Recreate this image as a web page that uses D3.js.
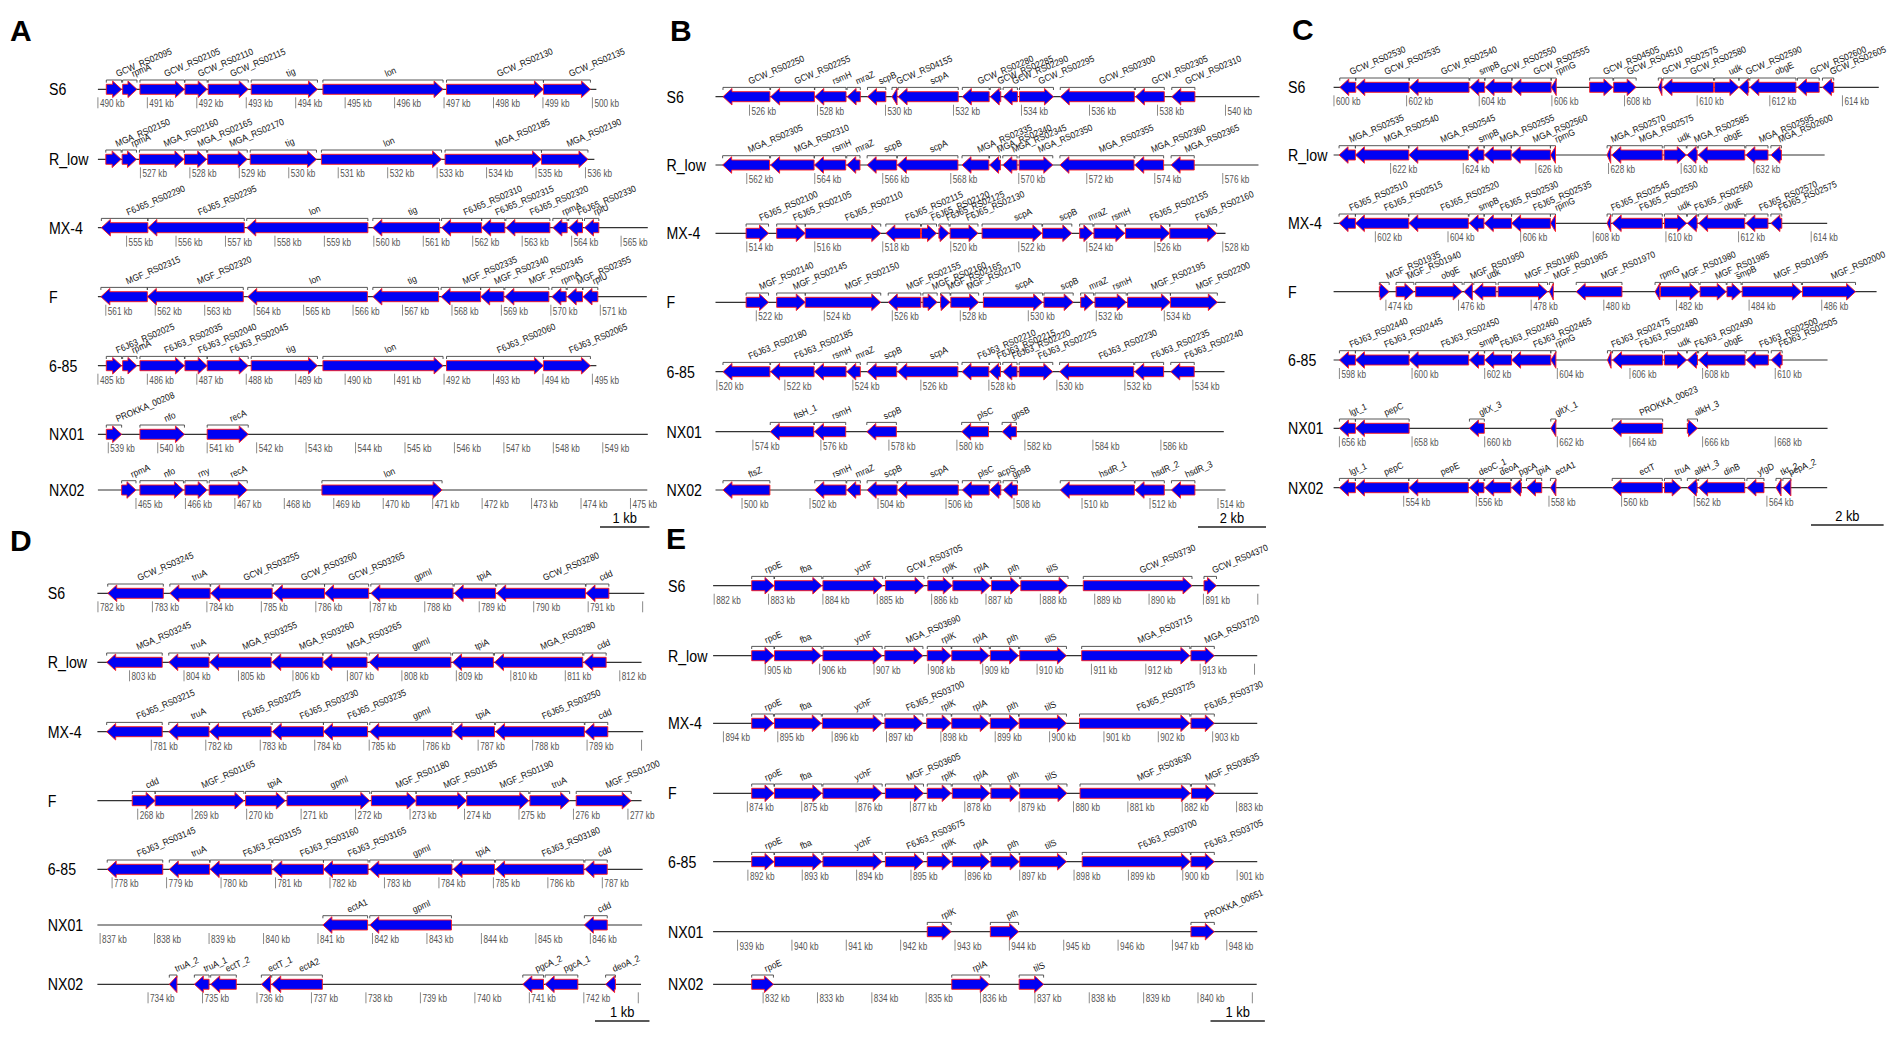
<!DOCTYPE html>
<html>
<head>
<meta charset="utf-8">
<script src="https://cdn.jsdelivr.net/npm/d3@7/dist/d3.min.js"></script>
<style>
  body { margin: 0; background: #fff; }
  svg { display: block; }
  text { font-family: "Liberation Sans", Arial, sans-serif; }
</style>
</head>
<body>
<div id="chart"></div>
<script>
// strains, one row each, same order in every panel
const strains = ['S6', 'R_low', 'MX-4', 'F', '6-85', 'NX01', 'NX02'];

// genes: [start kb, end kb, strand, name]
// panel A
const A_S6 = [[490.17,490.48,1,'GCW_RS02095'],[490.50,490.79,1,'rpmA'],[490.85,491.75,1,'GCW_RS02105'],[491.76,492.21,1,'GCW_RS02110'],[492.23,493.04,1,'GCW_RS02115'],[493.10,494.44,1,'tig'],[494.55,496.98,1,'lon'],[497.05,499.01,1,'GCW_RS02130'],[499.01,499.96,1,'GCW_RS02135']];
const A_Rlow = [[526.30,526.61,1,'MGA_RS02150'],[526.63,526.92,1,'rpmA'],[526.98,527.88,1,'MGA_RS02160'],[527.89,528.34,1,'MGA_RS02165'],[528.36,529.16,1,'MGA_RS02170'],[529.22,530.56,1,'tig'],[530.66,533.09,1,'lon'],[533.16,535.11,1,'MGA_RS02185'],[535.11,536.05,1,'MGA_RS02190']];
const A_MX4 = [[554.49,555.43,-1,'F6J65_RS02290'],[555.43,557.38,-1,'F6J65_RS02295'],[557.43,559.88,-1,'lon'],[559.98,561.33,-1,'tig'],[561.37,562.18,-1,'F6J65_RS02310'],[562.18,562.65,-1,'F6J65_RS02315'],[562.67,563.56,-1,'F6J65_RS02320'],[563.62,563.91,-1,'rpmA'],[563.94,564.22,-1,'F6J65_RS02330'],[564.26,564.55,-1,'rplU']];
const A_F = [[560.90,561.84,-1,'MGF_RS02315'],[561.84,563.78,-1,'MGF_RS02320'],[563.87,566.29,-1,'lon'],[566.40,567.73,-1,'tig'],[567.78,568.58,-1,'MGF_RS02335'],[568.58,569.05,-1,'MGF_RS02340'],[569.07,569.96,-1,'MGF_RS02345'],[570.02,570.31,-1,'rpmA'],[570.33,570.64,-1,'MGF_RS02355'],[570.65,570.95,-1,'rplU']];
const A_685 = [[485.17,485.48,1,'F6J63_RS02025'],[485.50,485.79,1,'rpmA'],[485.85,486.75,1,'F6J63_RS02035'],[486.76,487.21,1,'F6J63_RS02040'],[487.21,488.04,1,'F6J63_RS02045'],[488.10,489.44,1,'tig'],[489.55,491.98,1,'lon'],[492.05,494.01,1,'F6J63_RS02060'],[494.01,494.96,1,'F6J63_RS02065']];
const A_NX01 = [[538.96,539.27,1,'PROKKA_00208'],[539.64,540.54,1,'nfo'],[541.00,541.83,1,'recA']];
const A_NX02 = [[464.71,465.00,1,'rpmA'],[465.08,465.96,1,'nfo'],[465.99,466.44,1,'rny'],[466.48,467.25,1,'recA'],[468.76,471.19,1,'lon']];
const A_extent = [[490,500.08],[526.14,536.18],[554.42,565.54],[560.84,571.94],[485,495.08],[538.79,549.91],[464.23,475.34]];

// panel B
const B_S6 = [[525.22,526.60,-1,'GCW_RS02250'],[526.62,527.91,-1,'GCW_RS02255'],[527.92,528.84,-1,'rsmH'],[528.87,529.26,-1,'mraZ'],[529.47,530.01,-1,'scpB'],[530.19,530.34,-1,'GCW_RS04155'],[530.37,532.14,-1,'scpA'],[532.26,533.05,-1,'GCW_RS02280'],[533.08,533.39,-1,'GCW_RS02285'],[533.46,533.88,-1,'GCW_RS02290'],[533.94,534.94,1,'GCW_RS02295'],[535.14,537.32,-1,'GCW_RS02300'],[537.35,538.20,-1,'GCW_RS02305'],[538.42,539.10,-1,'GCW_RS02310']];
const B_Rlow = [[561.29,562.67,-1,'MGA_RS02305'],[562.70,563.98,-1,'MGA_RS02310'],[563.99,564.91,-1,'rsmH'],[564.94,565.33,-1,'mraZ'],[565.54,566.41,-1,'scpB'],[566.43,568.21,-1,'scpA'],[568.33,569.12,-1,'MGA_RS02335'],[569.14,569.46,-1,'MGA_RS02340'],[569.53,569.95,-1,'MGA_RS02345'],[570.01,571.00,1,'MGA_RS02350'],[571.21,573.39,-1,'MGA_RS02355'],[573.41,574.26,-1,'MGA_RS02360'],[574.48,575.16,-1,'MGA_RS02365']];
const B_MX4 = [[513.98,514.64,1,'F6J65_RS02100'],[514.88,515.72,1,'F6J65_RS02105'],[515.72,517.94,1,'F6J65_RS02110'],[518.09,519.11,-1,'F6J65_RS02115'],[519.14,519.58,1,'F6J65_RS02120'],[519.65,519.95,1,'F6J65_RS02125'],[519.98,520.80,1,'F6J65_RS02130'],[520.92,522.68,1,'scpA'],[522.70,523.56,1,'scpB'],[523.79,524.18,1,'mraZ'],[524.21,525.12,1,'rsmH'],[525.14,526.44,1,'F6J65_RS02155'],[526.44,527.82,1,'F6J65_RS02160']];
const B_F = [[521.70,522.36,1,'MGF_RS02140'],[522.60,523.44,1,'MGF_RS02145'],[523.44,525.66,1,'MGF_RS02150'],[525.88,526.84,-1,'MGF_RS02155'],[526.90,527.32,1,'MGF_RS02160'],[527.42,527.70,1,'MGF_RS02165'],[527.72,528.54,1,'MGF_RS02170'],[528.68,530.42,1,'scpA'],[530.46,531.32,1,'scpB'],[531.54,531.92,1,'mraZ'],[531.96,532.88,1,'rsmH'],[532.92,534.18,1,'MGF_RS02195'],[534.18,535.56,1,'MGF_RS02200']];
const B_685 = [[520.18,521.56,-1,'F6J63_RS02180'],[521.58,522.86,-1,'F6J63_RS02185'],[522.87,523.80,-1,'rsmH'],[523.82,524.22,-1,'mraZ'],[524.42,525.29,-1,'scpB'],[525.32,527.09,-1,'scpA'],[527.21,528.00,-1,'F6J63_RS02210'],[528.02,528.34,-1,'F6J63_RS02215'],[528.41,528.83,-1,'F6J63_RS02220'],[528.89,529.88,1,'F6J63_RS02225'],[530.08,532.26,-1,'F6J63_RS02230'],[532.29,533.14,-1,'F6J63_RS02235'],[533.35,534.04,-1,'F6J63_RS02240']];
const B_NX01 = [[574.51,575.79,-1,'ftsH_1'],[575.81,576.73,-1,'rsmH'],[577.35,578.22,-1,'scpB'],[580.14,580.93,-1,'plsC'],[581.33,581.75,-1,'gpsB']];
const B_NX02 = [[499.44,500.82,-1,'ftsZ'],[502.14,503.06,-1,'rsmH'],[503.08,503.48,-1,'mraZ'],[503.68,504.56,-1,'scpB'],[504.58,506.36,-1,'scpA'],[506.48,507.27,-1,'plsC'],[507.29,507.61,-1,'acpS'],[507.68,508.10,-1,'gpsB'],[509.36,511.54,-1,'hsdR_1'],[511.56,512.42,-1,'hsdR_2'],[512.63,513.32,-1,'hsdR_3']];
const B_extent = [[525.0,541.0],[561.08,577.05],[513.08,528.08],[520.80,535.80],[519.96,534.93],[572.90,587.85],[499.22,514.22]];

// panel C
const C_S6 = [[600.16,600.60,-1,'GCW_RS02530'],[600.60,602.07,-1,'GCW_RS02535'],[602.07,603.72,-1,'GCW_RS02540'],[603.74,604.15,-1,'smpB'],[604.16,604.90,-1,'GCW_RS02550'],[604.90,605.98,-1,'GCW_RS02555'],[605.98,606.12,-1,'rpmG'],[607.04,607.68,1,'GCW_RS04505'],[607.70,608.32,1,'GCW_RS04510'],[608.93,609.03,-1,'GCW_RS02575'],[609.06,610.45,-1,'GCW_RS02580'],[610.48,611.15,1,'udk'],[611.15,611.42,-1,'GCW_RS02590'],[611.45,612.72,-1,'obgE'],[612.76,613.36,-1,'GCW_RS02600'],[613.45,613.76,-1,'GCW_RS02605']];
const C_Rlow = [[620.58,621.03,-1,'MGA_RS02535'],[621.03,622.50,-1,'MGA_RS02540'],[622.50,624.14,-1,'MGA_RS02545'],[624.16,624.57,-1,'smpB'],[624.58,625.32,-1,'MGA_RS02555'],[625.32,626.40,-1,'MGA_RS02560'],[626.40,626.54,-1,'rpmG'],[627.96,628.06,-1,'MGA_RS02570'],[628.09,629.48,-1,'MGA_RS02575'],[629.53,630.14,1,'udk'],[630.16,630.44,-1,'MGA_RS02585'],[630.47,631.75,-1,'obgE'],[631.78,632.39,-1,'MGA_RS02595'],[632.47,632.76,-1,'MGA_RS02600']];
const C_MX4 = [[601.00,601.45,-1,'F6J65_RS02510'],[601.45,602.92,-1,'F6J65_RS02515'],[602.92,604.56,-1,'F6J65_RS02520'],[604.58,604.99,-1,'smpB'],[605.00,605.75,-1,'F6J65_RS02530'],[605.75,606.82,-1,'F6J65_RS02535'],[606.82,606.96,-1,'rpmG'],[608.38,608.48,-1,'F6J65_RS02545'],[608.52,609.90,-1,'F6J65_RS02550'],[609.96,610.57,1,'udk'],[610.59,610.86,-1,'F6J65_RS02560'],[610.90,612.17,-1,'obgE'],[612.20,612.81,-1,'F6J65_RS02570'],[612.89,613.19,-1,'F6J65_RS02575']];
const C_F = [[473.82,474.09,1,'MGF_RS01935'],[474.28,474.77,1,'MGF_RS01940'],[474.82,476.10,1,'obgE'],[476.15,476.38,-1,'MGF_RS01950'],[476.42,477.03,-1,'udk'],[477.09,478.45,1,'MGF_RS01960'],[478.50,478.61,-1,'MGF_RS01965'],[479.24,480.50,-1,'MGF_RS01970'],[481.41,481.54,-1,'rpmG'],[481.56,482.62,1,'MGF_RS01980'],[482.65,483.37,1,'MGF_RS01985'],[483.39,483.78,1,'smpB'],[483.81,485.44,1,'MGF_RS01995'],[485.47,486.93,1,'MGF_RS02000']];
const C_685 = [[598.00,598.44,-1,'F6J63_RS02440'],[598.44,599.92,-1,'F6J63_RS02445'],[599.92,601.56,-1,'F6J63_RS02450'],[601.58,601.99,-1,'smpB'],[602.00,602.74,-1,'F6J63_RS02460'],[602.74,603.82,-1,'F6J63_RS02465'],[603.82,603.96,-1,'rpmG'],[605.38,605.48,-1,'F6J63_RS02475'],[605.52,606.90,-1,'F6J63_RS02480'],[606.95,607.56,1,'udk'],[607.58,607.86,-1,'F6J63_RS02490'],[607.89,609.17,-1,'obgE'],[609.20,609.81,-1,'F6J63_RS02500'],[609.89,610.19,-1,'F6J63_RS02505']];
const C_NX01 = [[656.00,656.44,-1,'lgt_1'],[656.44,657.92,-1,'pepC'],[659.58,659.99,-1,'gltX_3'],[661.82,661.96,-1,'gltX_1'],[663.51,664.90,-1,'PROKKA_00623'],[665.58,665.86,1,'alkH_3']];
const C_NX02 = [[552.23,552.67,-1,'lgt_1'],[552.67,554.14,-1,'pepC'],[554.14,555.78,-1,'pepE'],[555.81,556.21,-1,'deoC_1'],[556.23,556.95,-1,'deoA'],[556.97,557.24,-1,'pgcA'],[557.38,557.80,-1,'tpiA'],[558.04,558.19,-1,'ectA1'],[559.74,561.12,-1,'ectT'],[561.18,561.64,1,'truA'],[561.81,562.08,-1,'alkH_3'],[562.12,563.39,-1,'dinB'],[563.45,563.92,-1,'yfgD'],[564.25,564.39,-1,'tkt_2'],[564.44,564.66,-1,'pepA_2']];
const C_extent = [[599.99,615.0],[620.43,633.95],[600.85,614.44],[472.56,487.51],[597.84,611.44],[655.84,669.44],[552.07,565.66]];

// panel D
const D_S6 = [[782.18,783.20,-1,'GCW_RS03245'],[783.32,784.06,-1,'truA'],[784.07,785.20,-1,'GCW_RS03255'],[785.22,786.16,-1,'GCW_RS03260'],[786.16,786.97,-1,'GCW_RS03265'],[787.01,788.52,-1,'gpmI'],[788.54,789.30,-1,'tpiA'],[789.32,790.95,-1,'GCW_RS03280'],[790.96,791.38,-1,'cdd']];
const D_Rlow = [[802.58,803.60,-1,'MGA_RS03245'],[803.72,804.46,-1,'truA'],[804.47,805.60,-1,'MGA_RS03255'],[805.61,806.55,-1,'MGA_RS03260'],[806.55,807.36,-1,'MGA_RS03265'],[807.40,808.90,-1,'gpmI'],[808.93,809.68,-1,'tpiA'],[809.70,811.32,-1,'MGA_RS03280'],[811.34,811.75,-1,'cdd']];
const D_MX4 = [[780.18,781.20,-1,'F6J65_RS03215'],[781.32,782.06,-1,'truA'],[782.07,783.20,-1,'F6J65_RS03225'],[783.22,784.16,-1,'F6J65_RS03230'],[784.16,784.97,-1,'F6J65_RS03235'],[785.01,786.52,-1,'gpmI'],[786.54,787.30,-1,'tpiA'],[787.32,788.95,-1,'F6J65_RS03250'],[788.96,789.38,-1,'cdd']];
const D_F = [[267.90,268.32,1,'cdd'],[268.32,269.95,1,'MGF_RS01165'],[269.98,270.71,1,'tpiA'],[270.74,272.26,1,'gpmI'],[272.29,273.11,1,'MGF_RS01180'],[273.11,274.04,1,'MGF_RS01185'],[274.04,275.18,1,'MGF_RS01190'],[275.20,275.93,1,'truA'],[276.05,277.06,1,'MGF_RS01200']];
const D_685 = [[777.91,778.93,-1,'F6J63_RS03145'],[779.05,779.79,-1,'truA'],[779.80,780.93,-1,'F6J63_RS03155'],[780.95,781.88,-1,'F6J63_RS03160'],[781.88,782.70,-1,'F6J63_RS03165'],[782.73,784.24,-1,'gpmI'],[784.26,785.02,-1,'tpiA'],[785.04,786.66,-1,'F6J63_RS03180'],[786.68,787.09,-1,'cdd']];
const D_NX01 = [[841.09,841.91,-1,'ectA1'],[841.95,843.45,-1,'gpmI'],[845.89,846.31,-1,'cdd']];
const D_NX02 = [[734.39,734.53,-1,'truA_2'],[734.85,735.12,-1,'truA_1'],[735.15,735.62,-1,'ectT_2'],[736.08,736.25,-1,'ectT_1'],[736.27,737.20,-1,'ectA2'],[740.88,741.26,-1,'pgcA_2'],[741.29,741.89,-1,'pgcA_1'],[742.40,742.58,-1,'deoA_2']];
const D_extent = [[781.99,792.03],[802.41,812.40],[780.01,790.03],[267.26,277.25],[777.73,787.74],[836.95,846.95],[733.07,743.05]];

// panel E
const E_S6 = [[882.69,883.10,1,'rpoE'],[883.11,883.98,1,'fba'],[884.00,885.10,1,'ychF'],[885.15,885.86,1,'GCW_RS03705'],[885.93,886.38,1,'rplK'],[886.39,887.08,1,'rplA'],[887.10,887.62,1,'pth'],[887.64,888.51,1,'tilS'],[888.79,890.79,1,'GCW_RS03730'],[891.01,891.24,1,'GCW_RS04370']];
const E_Rlow = [[904.75,905.16,1,'rpoE'],[905.17,906.03,1,'fba'],[906.06,907.15,1,'ychF'],[907.20,907.90,1,'MGA_RS03690'],[907.98,908.42,1,'rplK'],[908.43,909.12,1,'rplA'],[909.14,909.66,1,'pth'],[909.68,910.54,1,'tilS'],[910.82,912.81,1,'MGA_RS03715'],[912.83,913.26,1,'MGA_RS03720']];
const E_MX4 = [[894.52,894.92,1,'rpoE'],[894.94,895.80,1,'fba'],[895.82,896.92,1,'ychF'],[896.97,897.67,1,'F6J65_RS03700'],[897.74,898.19,1,'rplK'],[898.20,898.89,1,'rplA'],[898.91,899.43,1,'pth'],[899.44,900.31,1,'tilS'],[900.55,902.58,1,'F6J65_RS03725'],[902.60,903.03,1,'F6J65_RS03730']];
const E_F = [[874.08,874.49,1,'rpoE'],[874.50,875.37,1,'fba'],[875.39,876.48,1,'ychF'],[876.54,877.24,1,'MGF_RS03605'],[877.31,877.75,1,'rplK'],[877.77,878.46,1,'rplA'],[878.48,879.00,1,'pth'],[879.01,879.88,1,'tilS'],[880.12,882.15,1,'MGF_RS03630'],[882.17,882.60,1,'MGF_RS03635']];
const E_685 = [[892.07,892.48,1,'rpoE'],[892.49,893.36,1,'fba'],[893.38,894.47,1,'ychF'],[894.53,895.23,1,'F6J63_RS03675'],[895.30,895.74,1,'rplK'],[895.76,896.45,1,'rplA'],[896.47,896.99,1,'pth'],[897.00,897.86,1,'tilS'],[898.15,900.14,1,'F6J63_RS03700'],[900.15,900.58,1,'F6J63_RS03705']];
const E_NX01 = [[942.49,942.93,1,'rplK'],[943.65,944.17,1,'pth'],[947.34,947.77,1,'PROKKA_00651']];
const E_NX02 = [[831.79,832.19,1,'rpoE'],[835.47,836.16,1,'rplA'],[836.71,837.16,1,'tilS']];
const E_extent = [[881.98,892.03],[904.04,914.05],[893.81,903.82],[873.37,883.39],[891.36,901.37],[938.55,948.56],[831.08,841.08]];

const panels = [
  { id: 'A', genes: [A_S6, A_Rlow, A_MX4, A_F, A_685, A_NX01, A_NX02], extent: A_extent, tickStep: 1, barKb: 1 },
  { id: 'B', genes: [B_S6, B_Rlow, B_MX4, B_F, B_685, B_NX01, B_NX02], extent: B_extent, tickStep: 2, barKb: 2 },
  { id: 'C', genes: [C_S6, C_Rlow, C_MX4, C_F, C_685, C_NX01, C_NX02], extent: C_extent, tickStep: 2, barKb: 2 },
  { id: 'D', genes: [D_S6, D_Rlow, D_MX4, D_F, D_685, D_NX01, D_NX02], extent: D_extent, tickStep: 1, barKb: 1 },
  { id: 'E', genes: [E_S6, E_Rlow, E_MX4, E_F, E_685, E_NX01, E_NX02], extent: E_extent, tickStep: 1, barKb: 1 }
];

// page layout (pixels)
const layout = {
  A: { x0: 97.9, kbPx: 49.45, nameX: 49, letter: [10, 41], rows: [89.3, 159.3, 227.7, 296.7, 365.7, 434.3, 490], barX: 600, barY: 527, clipX: 700 },
  B: { x0: 715.5, kbPx: 34.0, nameX: 666.5, letter: [670, 41], rows: [96.7, 165, 233.3, 302.3, 371.7, 431.7, 490], barX: 1198, barY: 527, clipX: 1290 },
  C: { x0: 1333.6, kbPx: 36.32, nameX: 1288, letter: [1292, 40], rows: [87.3, 155, 223.3, 291.7, 360, 428.3, 487.7], barX: 1811, barY: 525, clipX: 1901 },
  D: { x0: 97.4, kbPx: 54.47, nameX: 47.7, letter: [10, 551], rows: [593.3, 662.3, 731.7, 800.7, 869.3, 925, 984.3], barX: 595, barY: 1021, clipX: 660 },
  E: { x0: 713.1, kbPx: 54.36, nameX: 668, letter: [666, 549], rows: [585.7, 655.7, 723.3, 793.3, 861.7, 931.7, 984.3], barX: 1210.5, barY: 1021, clipX: 1275 }
};

const nameSqueeze = 0.86, tickSqueeze = 0.82, geneSqueeze = 0.9;
const blue = '#0000f4', red = '#ff1a1a';

const svg = d3.select('#chart').append('svg')
  .attr('width', 1901)
  .attr('height', 1043);

svg.append('rect').attr('width', 1901).attr('height', 1043).attr('fill', '#fff');

function arrowPath(x1, x2, strand, y) {
  let len = x2 - x1;
  let head = Math.min(9, len);
  let bh = 5, hh = 8.3;
  if (strand > 0) {
    let hx = x2 - head;
    return `M${x1},${y - bh}L${hx},${y - bh}L${hx},${y - hh}L${x2},${y}L${hx},${y + hh}L${hx},${y + bh}L${x1},${y + bh}Z`;
  }
  let hx = x1 + head;
  return `M${x2},${y - bh}L${hx},${y - bh}L${hx},${y - hh}L${x1},${y}L${hx},${y + hh}L${hx},${y + bh}L${x2},${y + bh}Z`;
}

panels.forEach(panel => {
  let lay = layout[panel.id];
  let g = svg.append('g').attr('class', 'panel-' + panel.id);

  g.append('text')
    .attr('x', lay.letter[0])
    .attr('y', lay.letter[1])
    .attr('font-size', 30)
    .attr('font-weight', 'bold')
    .text(panel.id);

  strains.forEach((strain, i) => {
    let ext = panel.extent[i];
    let y = lay.rows[i];
    let x = d3.scaleLinear()
      .domain([ext[0], ext[0] + 1])
      .range([lay.x0, lay.x0 + lay.kbPx]);

    let row = g.append('g').attr('class', 'track');

    row.append('text')
      .attr('transform', `translate(${lay.nameX},${y + 6}) scale(${nameSqueeze},1)`)
      .attr('font-size', 16.5)
      .text(strain);

    row.append('line')
      .attr('x1', x(ext[0])).attr('x2', x(ext[1]))
      .attr('y1', y).attr('y2', y)
      .attr('stroke', '#333')
      .attr('stroke-width', 1.2);

    // kb ticks
    let step = panel.tickStep;
    let first = Math.ceil(ext[0] / step - 1e-6) * step;
    let last = Math.floor(ext[1] / step + 1e-6) * step;
    let ticks = d3.range(first, last + step / 2, step);

    let tk = row.selectAll('g.tick')
      .data(ticks)
      .enter().append('g')
        .attr('class', 'tick');

    tk.append('line')
      .attr('x1', d => x(d)).attr('x2', d => x(d))
      .attr('y1', y + 8).attr('y2', y + 19)
      .attr('stroke', '#8a8a8a')
      .attr('stroke-width', 1);

    tk.append('text')
      .attr('transform', d => `translate(${x(d) + 2},${y + 18}) scale(${tickSqueeze},1)`)
      .attr('font-size', 10)
      .attr('fill', '#555')
      .text(d => d + ' kb')
      .each(function(d) {
        let w = this.getComputedTextLength() * tickSqueeze;
        if (x(d) + 2 + w > lay.clipX) d3.select(this).remove();
      });

    // brackets over each gene
    let by = y - 9.3;
    row.selectAll('path.bracket')
      .data(panel.genes[i])
      .enter().append('path')
        .attr('class', 'bracket')
        .attr('d', d => `M${x(d[0])},${by + 2.6}V${by}H${x(d[1])}V${by + 2.6}`)
        .attr('fill', 'none')
        .attr('stroke', '#444')
        .attr('stroke-width', 0.9);

    row.selectAll('path.gene')
      .data(panel.genes[i])
      .enter().append('path')
        .attr('class', 'gene')
        .attr('d', d => arrowPath(x(d[0]), x(d[1]), d[2], y))
        .attr('fill', blue)
        .attr('stroke', red)
        .attr('stroke-width', 0.9)
        .attr('stroke-linejoin', 'miter');

    row.selectAll('text.gname')
      .data(panel.genes[i])
      .enter().append('text')
        .attr('class', 'gname')
        .attr('transform', d => `translate(${(x(d[0]) + x(d[1])) / 2 + 3.5},${by - 3}) rotate(-23) scale(${geneSqueeze},1)`)
        .attr('font-size', 9.3)
        .attr('fill', '#111')
        .text(d => d[3]);
  });

  // scale bar
  let barLen = panel.barKb * lay.kbPx;
  g.append('line')
    .attr('x1', lay.barX).attr('x2', lay.barX + barLen)
    .attr('y1', lay.barY).attr('y2', lay.barY)
    .attr('stroke', '#222')
    .attr('stroke-width', 1.5);
  g.append('text')
    .attr('transform', `translate(${lay.barX + barLen / 2},${lay.barY - 4}) scale(${nameSqueeze},1)`)
    .attr('text-anchor', 'middle')
    .attr('font-size', 15)
    .text(panel.barKb + ' kb');
});
</script>
</body>
</html>
